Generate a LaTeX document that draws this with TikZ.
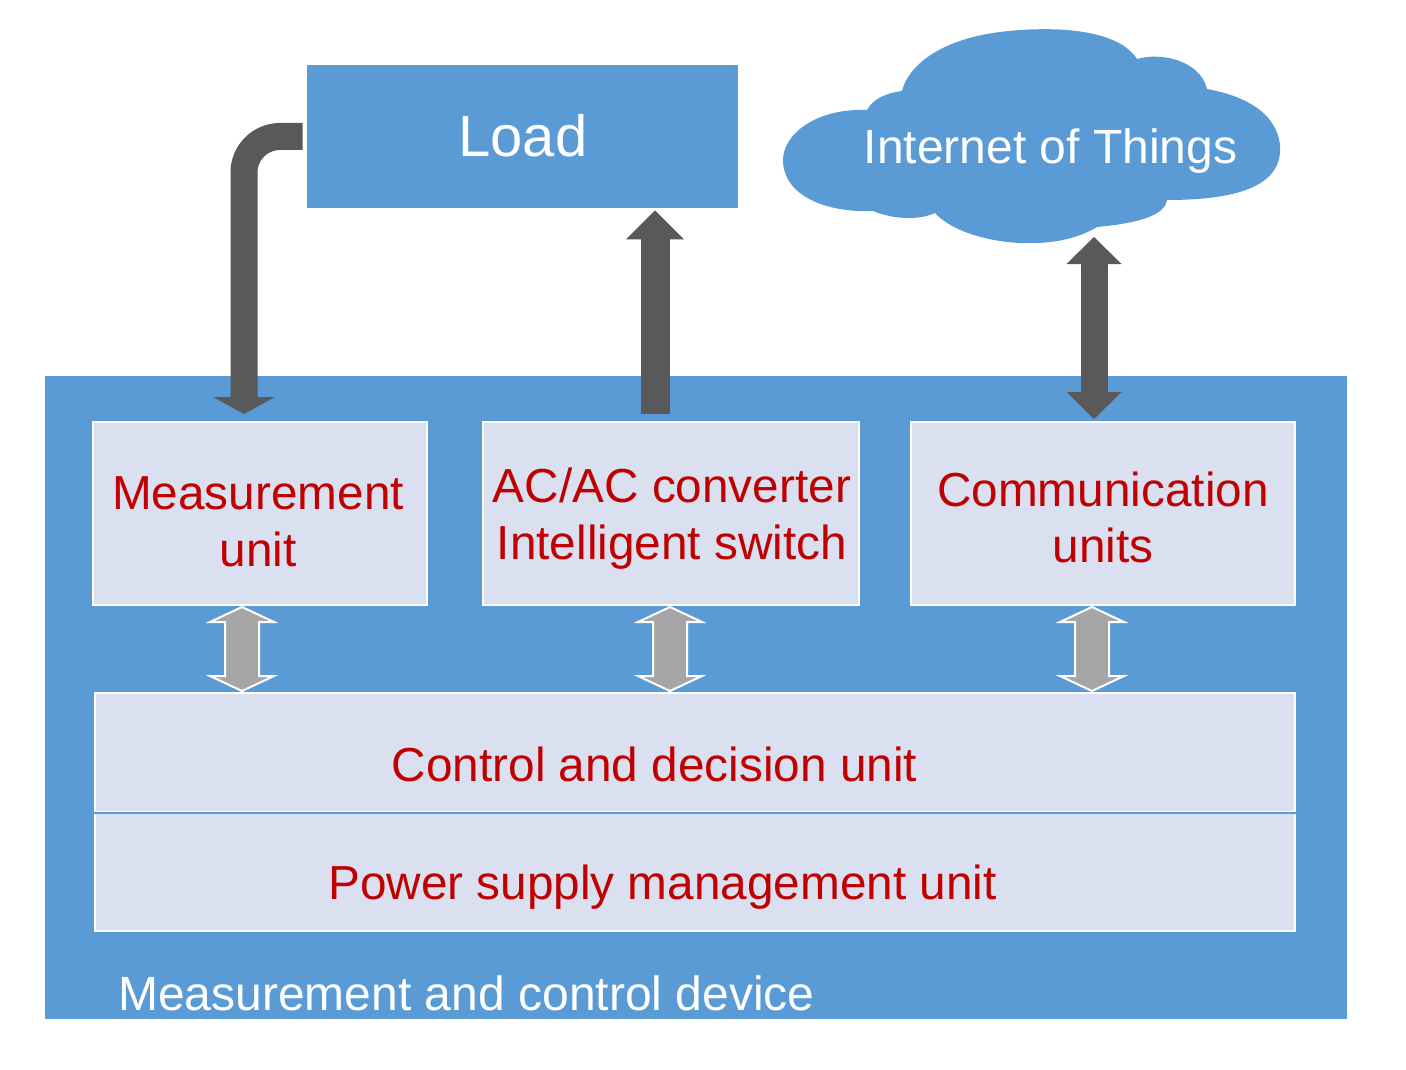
\documentclass[tikz,border=0pt]{standalone}
\usepackage{fontspec}
\setmainfont{Liberation Sans}
\usetikzlibrary{fit,calc,arrows.meta}
\definecolor{bl}{HTML}{5B9BD5}
\definecolor{dk}{HTML}{595959}
\definecolor{gr}{HTML}{A5A5A5}
\definecolor{lt}{HTML}{DAE0EF}
\definecolor{rd}{HTML}{C00000}
\begin{document}
\begin{tikzpicture}[x=0.75pt,y=-0.75pt,
  bluebox/.style={fit={#1}, inner sep=0pt, fill=bl, draw=none},
  unitbox/.style={fit={#1}, inner sep=0pt, fill=lt, draw=white, line width=1.5pt},
  redtxt/.style={anchor=base, inner sep=0pt, text=rd, font=\fontsize{35.8}{42}\selectfont},
  whitetxt/.style={inner sep=0pt, text=white, font=\fontsize{36}{42}\selectfont},
  gdarrow/.pic={\filldraw[fill=gr, draw=white, line width=1.5pt]
     (0,-42) -- (32,-27) -- (17,-27) -- (17,27) -- (32,27) -- (0,42)
     -- (-32,27) -- (-17,27) -- (-17,-27) -- (-32,-27) -- cycle;}
]
\useasboundingbox (0,0) rectangle (1406,1070);
% outer device
\node[bluebox={(45,376) (1347,1019)}] (dev) {};
\node[whitetxt, anchor=base west] (devlbl) at (118,1010) {Measurement and control device};
% load
\node[bluebox={(307,65) (738,208)}] (load) {};
\node[anchor=base, inner sep=0pt, text=white, font=\fontsize{43.5}{50}\selectfont] (loadlbl) at (523,157) {Load};
% cloud
\fill[bl] (867,110) .. controls (815,108) and (783,135) .. (783,160)
  .. controls (783,195) and (825,213) .. (873,211)
  .. controls (895,220) and (920,220) .. (935,213)
  .. controls (962,243) and (1050,256) .. (1097,227)
  .. controls (1140,223) and (1165,215) .. (1167,200)
  .. controls (1240,200) and (1283,185) .. (1280,145)
  .. controls (1276,110) and (1240,95) .. (1207,89)
  .. controls (1200,60) and (1160,52) .. (1137,59)
  .. controls (1115,25) and (1040,27) .. (1000,32)
  .. controls (950,38) and (910,60) .. (902,91)
  .. controls (885,93) and (872,100) .. (867,110) -- cycle;
\node[whitetxt, anchor=base] (iot) at (1050.5,164) {Internet of Things};
\coordinate (cloudb) at (1094,237);
% unit boxes
\node[unitbox={(93,422) (427,605)}] (meas) {};
\node[unitbox={(483,422) (859,605)}] (conv) {};
\node[unitbox={(911,422) (1295,605)}] (comm) {};
\node[unitbox={(95,693) (1295,812)}] (ctrl) {};
\node[unitbox={(95,812) (1295,931)}] (pow) {};
\draw[bl, line width=1.5pt] (ctrl.south west) -- (ctrl.south east);
% texts
\node[redtxt] at (258,509) {Measurement};
\node[redtxt] at (258,566) {unit};
\node[redtxt] at (672,502) {AC/AC converter};
\node[redtxt] at (672,559) {Intelligent switch};
\node[redtxt] at (1103,506) {Communication};
\node[redtxt] at (1103,562) {units};
\node[redtxt] at (654.5,781) {Control and decision unit};
\node[redtxt] at (662.5,899) {Power supply management unit};
% dark arrows
\draw[dk, line width=20.25pt, rounded corners=27pt,
  -{Triangle[width=46.5pt, length=12.75pt, line width=0pt]}, shorten >=5.25pt]
  ([xshift=-3pt]load.west) -| ([xshift=-12pt]meas.north);
\draw[dk, line width=21.75pt,
  -{Triangle[width=43.5pt, length=21.75pt, line width=0pt]}, shorten <=5.25pt, shorten >=1.5pt]
  ([xshift=-12pt]conv.north) -- ([xshift=-12pt]conv.north |- load.south);
\draw[dk, line width=20.25pt,
  {Triangle[width=41.25pt, length=20.25pt, line width=0pt]}-{Triangle[width=41.25pt, length=20.25pt, line width=0pt]}, shorten <=1.5pt]
  ([xshift=-6.75pt]comm.north) -- (cloudb);
% gray double arrows
\path ($(meas.south)!0.5!(meas.south |- ctrl.north)+(-18,0)$) pic {gdarrow};
\path ($(conv.south)!0.5!(conv.south |- ctrl.north)+(-1,0)$) pic {gdarrow};
\path ($(comm.south)!0.5!(comm.south |- ctrl.north)+(-11,0)$) pic {gdarrow};
\end{tikzpicture}
\end{document}
